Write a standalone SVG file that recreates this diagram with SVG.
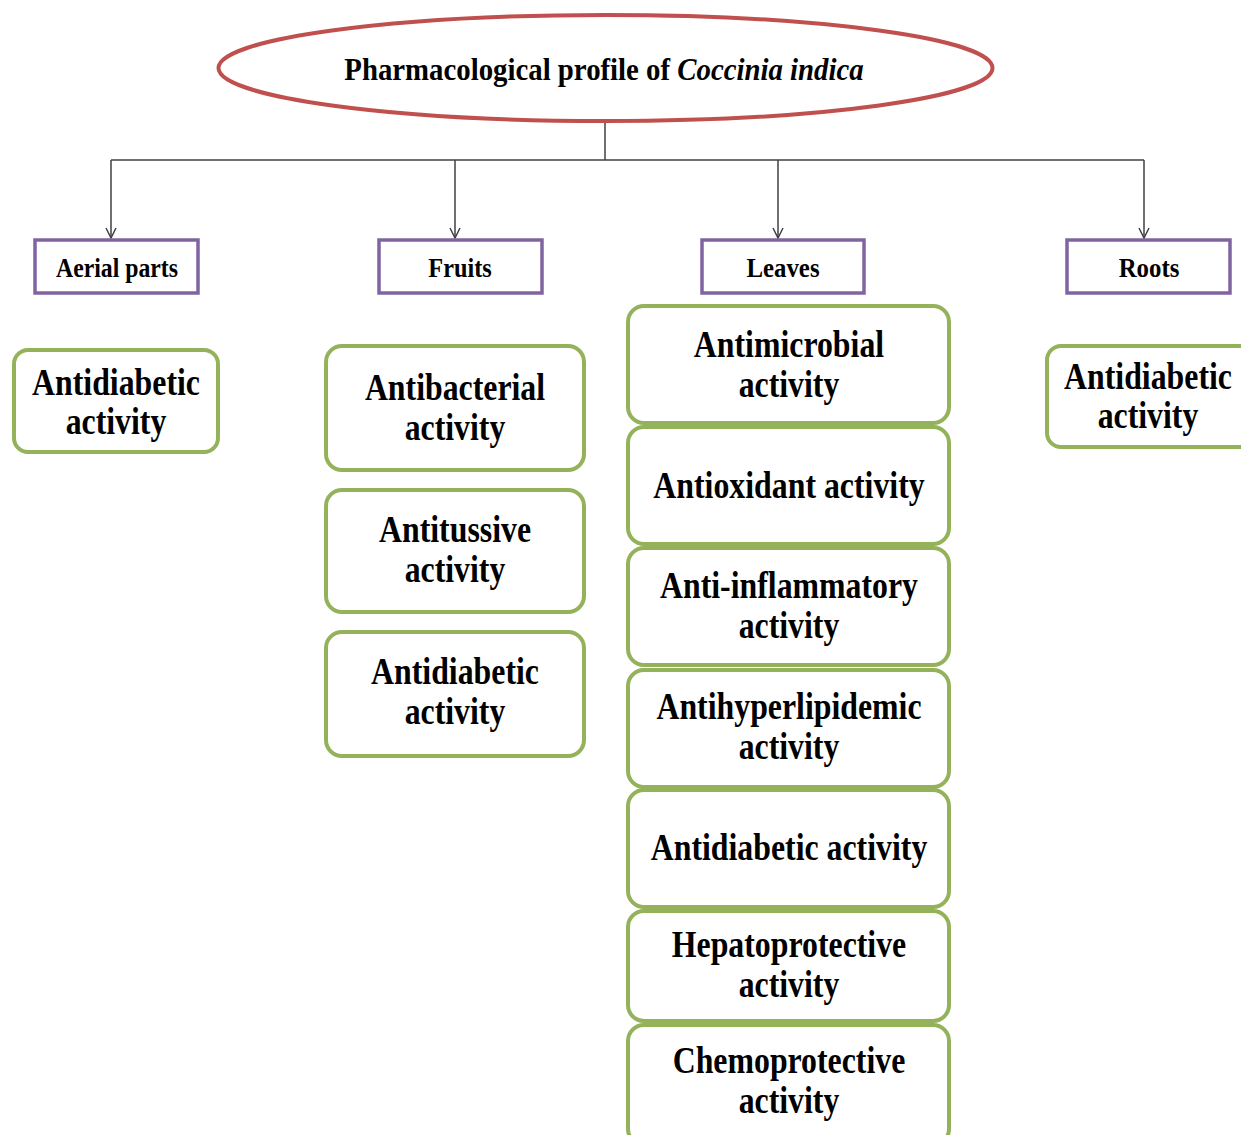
<svg xmlns="http://www.w3.org/2000/svg" width="1241" height="1135" viewBox="0 0 1241 1135">
<defs>
<style>
.t{font-family:"Liberation Serif","Times New Roman",serif;font-weight:bold;font-size:37px;fill:#000;text-anchor:middle}
.p{font-family:"Liberation Serif","Times New Roman",serif;font-weight:bold;font-size:27px;fill:#000;text-anchor:middle}
.h{font-family:"Liberation Serif","Times New Roman",serif;font-weight:bold;font-size:32px;fill:#000;text-anchor:middle}
.g{fill:#fff;stroke:#93B25A;stroke-width:4}
.pu{fill:#fff;stroke:#8064A2;stroke-width:3.5}
.c{fill:none;stroke:#404040;stroke-width:1.5}
</style>
<marker id="arr" markerWidth="12" markerHeight="12" refX="11" refY="6" orient="auto" markerUnits="userSpaceOnUse" viewBox="0 0 12 12">
<path d="M1,1 L11,6 L1,11" fill="none" stroke="#404040" stroke-width="1.5"/>
</marker>
</defs>
<rect width="1241" height="1135" fill="#fff"/>
<g id="connectors">
<path class="c" d="M605,121 V160"/>
<path class="c" d="M111,160 H1144"/>
<path class="c" d="M111,160 V238" marker-end="url(#arr)"/>
<path class="c" d="M455,160 V238" marker-end="url(#arr)"/>
<path class="c" d="M778,160 V238" marker-end="url(#arr)"/>
<path class="c" d="M1144,160 V238" marker-end="url(#arr)"/>
</g>
<g id="title">
<ellipse cx="605.5" cy="68" rx="387" ry="53" fill="#fff" stroke="#C0504D" stroke-width="4"/>
<text class="h" transform="translate(604,80) scale(0.9,1)">Pharmacological profile of <tspan font-style="italic">Coccinia indica</tspan></text>
</g>
<g id="aerial"><rect class="pu" x="35" y="240" width="163" height="53"/><text class="p" transform="translate(117,277) scale(0.88,1)">Aerial parts</text></g>
<g id="fruits"><rect class="pu" x="379" y="240" width="163" height="53"/><text class="p" transform="translate(460,277) scale(0.9,1)">Fruits</text></g>
<g id="leaves"><rect class="pu" x="702" y="240" width="162" height="53"/><text class="p" transform="translate(783,277) scale(0.92,1)">Leaves</text></g>
<g id="roots"><rect class="pu" x="1067" y="240" width="163" height="53"/><text class="p" transform="translate(1149,277) scale(0.92,1)">Roots</text></g>

<g id="aerial-antidiabetic"><rect class="g" x="14" y="350" width="204" height="102" rx="14"/>
<text class="t" transform="translate(116,395) scale(0.86,1)">Antidiabetic</text>
<text class="t" transform="translate(116,434) scale(0.86,1)">activity</text></g>

<g id="fruits-antibacterial"><rect class="g" x="326" y="346" width="258" height="124" rx="16"/>
<text class="t" transform="translate(455,400) scale(0.86,1)">Antibacterial</text>
<text class="t" transform="translate(455,440) scale(0.86,1)">activity</text></g>
<g id="fruits-antitussive"><rect class="g" x="326" y="490" width="258" height="122" rx="16"/>
<text class="t" transform="translate(455,542) scale(0.86,1)">Antitussive</text>
<text class="t" transform="translate(455,582) scale(0.86,1)">activity</text></g>
<g id="fruits-antidiabetic"><rect class="g" x="326" y="632" width="258" height="124" rx="16"/>
<text class="t" transform="translate(455,684) scale(0.86,1)">Antidiabetic</text>
<text class="t" transform="translate(455,724) scale(0.86,1)">activity</text></g>

<g id="leaves-antimicrobial"><rect class="g" x="628" y="306" width="321" height="117" rx="16"/>
<text class="t" transform="translate(789,357) scale(0.86,1)">Antimicrobial</text>
<text class="t" transform="translate(789,397) scale(0.86,1)">activity</text></g>
<g id="leaves-antioxidant"><rect class="g" x="628" y="427" width="321" height="117" rx="16"/>
<text class="t" transform="translate(789,498) scale(0.86,1)">Antioxidant activity</text></g>
<g id="leaves-antiinflammatory"><rect class="g" x="628" y="548" width="321" height="117" rx="16"/>
<text class="t" transform="translate(789,598) scale(0.86,1)">Anti-inflammatory</text>
<text class="t" transform="translate(789,638) scale(0.86,1)">activity</text></g>
<g id="leaves-antihyperlipidemic"><rect class="g" x="628" y="670" width="321" height="117" rx="16"/>
<text class="t" transform="translate(789,719) scale(0.86,1)">Antihyperlipidemic</text>
<text class="t" transform="translate(789,759) scale(0.86,1)">activity</text></g>
<g id="leaves-antidiabetic"><rect class="g" x="628" y="790" width="321" height="117" rx="16"/>
<text class="t" transform="translate(789,860) scale(0.86,1)">Antidiabetic activity</text></g>
<g id="leaves-hepatoprotective"><rect class="g" x="628" y="911" width="321" height="110" rx="16"/>
<text class="t" transform="translate(789,957) scale(0.86,1)">Hepatoprotective</text>
<text class="t" transform="translate(789,997) scale(0.86,1)">activity</text></g>
<g id="leaves-chemoprotective"><rect class="g" x="628" y="1025" width="321" height="120" rx="16"/>
<text class="t" transform="translate(789,1073) scale(0.86,1)">Chemoprotective</text>
<text class="t" transform="translate(789,1113) scale(0.86,1)">activity</text></g>

<g id="roots-antidiabetic"><rect class="g" x="1047" y="346" width="210" height="101" rx="14"/>
<text class="t" transform="translate(1148,389) scale(0.86,1)">Antidiabetic</text>
<text class="t" transform="translate(1148,428) scale(0.86,1)">activity</text></g>
</svg>
